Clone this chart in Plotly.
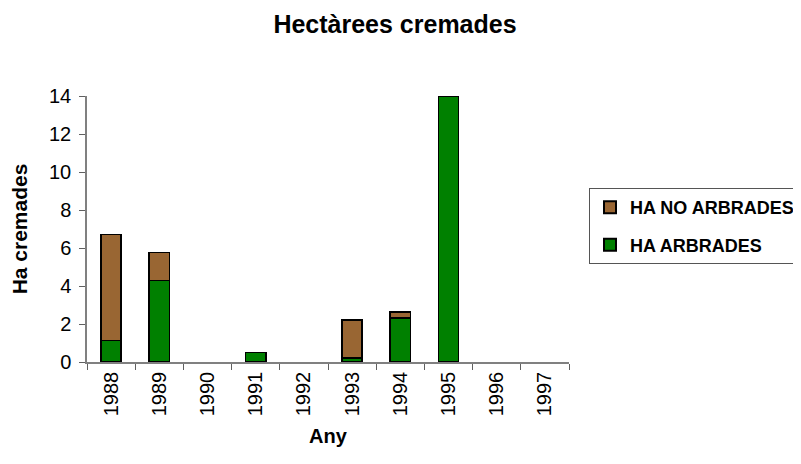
import plotly.graph_objects as go

years = ["1988", "1989", "1990", "1991", "1992", "1993", "1994", "1995", "1996", "1997"]
ha_arbrades = [1.14, 4.3, 0, 0.51, 0, 0.21, 2.32, 14.0, 0, 0]
ha_no_arbrades = [5.58, 1.47, 0, 0, 0, 2.0, 0.31, 0, 0, 0]

font = "Liberation Sans, Arial, sans-serif"


def nz(vals):
    return [v if v else None for v in vals]


fig = go.Figure()
fig.add_trace(go.Bar(
    x=years, y=nz(ha_arbrades), name="<b>HA ARBRADES</b>", legendgroup="a",
    legendrank=2,
    marker=dict(color="#008000", line=dict(color="black", width=1.5)),
))
fig.add_trace(go.Bar(
    x=years, y=nz(ha_no_arbrades), name="<b>HA NO ARBRADES</b>", legendgroup="b",
    legendrank=1,
    marker=dict(color="#996633", line=dict(color="black", width=1.5)),
))

fig.update_layout(
    width=801, height=464,
    barmode="stack", bargap=0.58,
    paper_bgcolor="white", plot_bgcolor="white",
    margin=dict(l=79, r=240, t=88, b=110, autoexpand=False),
    font=dict(family=font, size=20, color="black"),
    title=dict(text="<b>Hectàrees cremades</b>", x=(266 + 524) / 2 / 801 - 8 / 801, xanchor="center",
               y=1 - 16 / 464, yanchor="middle", font=dict(size=25, family=font)),
    showlegend=True,
    legend=dict(x=1.0415, xanchor="left", y=0.654, yanchor="top",
                traceorder="grouped", tracegroupgap=11,
                bordercolor="#555555", borderwidth=1,
                font=dict(size=18, family=font),
                itemsizing="constant", itemwidth=30),
    xaxis=dict(
        type="category", showline=True, linecolor="#808080", linewidth=1.5,
        ticks="outside", tickson="boundaries", ticklen=6, tickcolor="#606060",
        tickangle=-90, showgrid=False,
        title=dict(text="<b>Any</b>", font=dict(size=20, family=font), standoff=14),
        tickfont=dict(size=20, family=font),
    ),
    yaxis=dict(
        range=[0, 14], dtick=2, showline=True, linecolor="#808080", linewidth=1.5,
        ticks="outside", ticklen=6, tickcolor="#606060", showgrid=False,
        zeroline=False, ticklabelstandoff=4,
        title=dict(text="<b>Ha cremades</b>", font=dict(size=21, family=font), standoff=18),
        tickfont=dict(size=20, family=font),
    ),
)

fig.write_html("out.html")
